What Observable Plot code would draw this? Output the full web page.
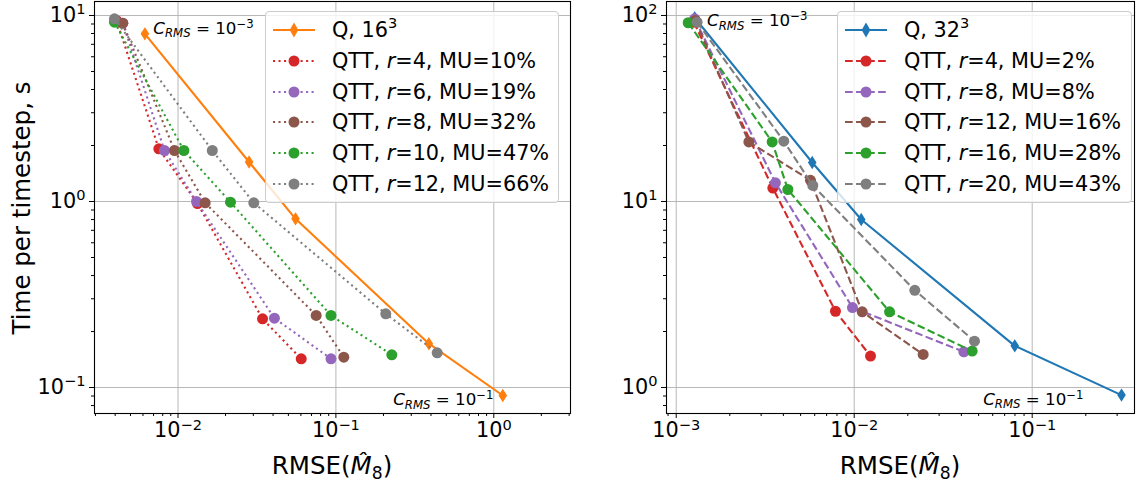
<!DOCTYPE html>
<html>
<head>
<meta charset="utf-8">
<script src="https://cdn.jsdelivr.net/npm/d3@7"></script>
<script src="https://cdn.jsdelivr.net/npm/@observablehq/plot@0.6"></script>
<style>
  html, body { margin: 0; padding: 0; background: #fff; }
  #figure { position: relative; width: 1140px; height: 482px; font-family: "DejaVu Sans", sans-serif; color: #000; overflow: hidden; }
  #figure > svg { position: absolute; top: 0; }
  .legend-box { position: absolute; background: rgba(255,255,255,0.8); border: 1px solid #cccccc; border-radius: 4px; box-sizing: border-box; }
  .legend-handle { position: absolute; overflow: visible; }
  .legend-text { position: absolute; font-size: 20.8px; line-height: 30px; height: 30px; white-space: nowrap; }
  .legend-text .sup { font-size: 70%; position: relative; top: -0.6em; }
</style>
</head>
<body>
<div id="figure"></div>
<script>
// ---- 16^3 grid: full tensor (Q) and QTT at several ranks ----
const errQ16  = [0.00617, 0.0282, 0.0555, 0.388, 1.14];
const timeQ16 = [7.97, 1.63, 0.807, 0.172, 0.0906];
const ranks16 = [4, 6, 8, 10, 12];
const memUse16 = [10, 19, 32, 47, 66];
const errQTT16 = [
  [0.00408, 0.00756, 0.01329, 0.0343, 0.0603],
  [0.00447, 0.00821, 0.0131, 0.0408, 0.0931],
  [0.00447, 0.00950, 0.01486, 0.0750, 0.1122],
  [0.00396, 0.01089, 0.0215, 0.0931, 0.226],
  [0.00396, 0.01649, 0.0302, 0.207, 0.438]
];
const timeQTT16 = [
  [9.40, 1.92, 0.975, 0.234, 0.1427],
  [9.09, 1.88, 1.00, 0.236, 0.1427],
  [9.09, 1.88, 0.984, 0.244, 0.1455],
  [9.21, 1.88, 0.991, 0.244, 0.150],
  [9.60, 1.88, 0.984, 0.249, 0.1536]
];

// ---- 32^3 grid ----
const errQ32  = [0.00127, 0.00581, 0.01095, 0.0798, 0.3175];
const timeQ32 = [97.2, 16.2, 8.0, 1.675, 0.910];
const ranks32 = [4, 8, 12, 16, 20];
const memUse32 = [2, 8, 16, 28, 43];
const errQTT32 = [
  [0.001256, 0.00349, 0.00785, 0.01235],
  [0.00127, 0.00361, 0.00978, 0.0413],
  [0.00128, 0.00256, 0.00568, 0.01109, 0.0244],
  [0.001168, 0.00346, 0.00424, 0.0158, 0.0460],
  [0.00131, 0.00402, 0.00585, 0.0219, 0.0474]
];
const timeQTT32 = [
  [92.0, 11.8, 2.57, 1.475],
  [96.0, 12.6, 2.69, 1.555],
  [94.0, 20.9, 13.0, 2.55, 1.505],
  [91.4, 20.9, 11.6, 2.55, 1.569],
  [92.0, 21.1, 12.2, 3.33, 1.775]
];

// axis ranges and labelled decades
const xDomain16 = [0.002959, 3.06];
const yDomain16 = [0.0725, 11.89];
const xDomain32 = [0.000882, 0.3756];
const yDomain32 = [0.7247, 118.9];
const xMajor16 = [0.01, 0.1, 1];
const yMajor16 = [0.1, 1, 10];
const xMajor32 = [0.001, 0.01, 0.1];
const yMajor32 = [1, 10, 100];

const qttColors = ["#d62728", "#9467bd", "#8c564b", "#2ca02c", "#7f7f7f"];
const DOTTED = "2.08 3.43";
const DASHED = "7.7 3.33";
const TICK_FS = 20.8, NOTE_FS = 16.7, LABEL_FS = 24.5;

// narrow diamond marker
const thinDiamond = {
  draw(ctx, size) {
    const r = Math.sqrt(size / Math.PI);
    const hh = r * 1.12, hw = r * 0.72;
    ctx.moveTo(0, -hh); ctx.lineTo(hw, 0); ctx.lineTo(0, hh); ctx.lineTo(-hw, 0); ctx.closePath();
  }
};

function minorTicks([lo, hi]) {
  const out = [];
  for (let e = Math.floor(Math.log10(lo)); e <= Math.ceil(Math.log10(hi)); e++)
    for (let m = 2; m <= 9; m++) { const v = m * 10 ** e; if (v >= lo && v <= hi) out.push(v); }
  return out;
}
const expLabel = d => `10^${Math.round(Math.log10(d))}`;

// rebuild a text element as a run of tspans (italic / sub / sup)
function rebuild(el, parts, fs) {
  const t = d3.select(el);
  t.selectAll("*").remove();
  t.text(null);
  let cur = 0;
  for (const [str, kind = ""] of parts) {
    const ts = t.append("tspan").text(str);
    let target = 0;
    if (kind.includes("it")) ts.attr("font-style", "italic");
    if (kind.includes("sup")) { ts.attr("font-size", fs * 0.7); target = -0.37 * fs; }
    if (kind.includes("sub")) { ts.attr("font-size", fs * 0.7); target = 0.2 * fs; }
    if (target !== cur) ts.attr("dy", target - cur);
    cur = target;
  }
}
function mathify(svg) {
  d3.select(svg).selectAll("text").each(function () {
    const s = this.textContent;
    let m = s.match(/^10\^(-?\d+)$/);
    if (m) { rebuild(this, [["10"], [m[1].replace("-", "\u2212"), "sup"]], TICK_FS); return; }
    m = s.match(/^C_RMS = 10\^(-?\d+)$/);
    if (m) rebuild(this, [["C", "it"], ["RMS", "subit"], [" = 10"], [m[1].replace("-", "\u2212"), "sup"]], NOTE_FS);
  });
}

function panel(cfg) {
  const marks = [
    Plot.gridX(cfg.xMajor, {stroke: "#b0b0b0", strokeOpacity: 1, strokeWidth: 0.9}),
    Plot.gridY(cfg.yMajor, {stroke: "#b0b0b0", strokeOpacity: 1, strokeWidth: 0.9}),
    Plot.line(cfg.qTime, {x: cfg.qErr, y: cfg.qTime, stroke: cfg.qColor, strokeWidth: 2.1}),
    Plot.dot(cfg.qTime, {x: cfg.qErr, y: cfg.qTime, symbol: thinDiamond, r: 4.8, fill: cfg.qColor, stroke: cfg.qColor, strokeWidth: 1.4})
  ];
  cfg.qttErr.forEach((errs, k) => {
    const times = cfg.qttTime[k];
    marks.push(Plot.line(times, {x: errs, y: times, stroke: qttColors[k], strokeWidth: 2.1, strokeDasharray: cfg.dash, strokeLinecap: "butt"}));
    marks.push(Plot.dot(times, {x: errs, y: times, r: 5.5, fill: qttColors[k]}));
  });
  const n = cfg.qErr.length - 1;
  marks.push(
    Plot.text([0], {x: [cfg.qErr[0]], y: [cfg.qTime[0]], text: ["C_RMS = 10^-3"], textAnchor: "start", lineAnchor: "bottom", dx: cfg.topNote[0], dy: cfg.topNote[1], fontSize: NOTE_FS}),
    Plot.text([0], {x: [cfg.qErr[n]], y: [cfg.qTime[n]], text: ["C_RMS = 10^-1"], textAnchor: "end", lineAnchor: "bottom", dx: cfg.bottomNote[0], dy: cfg.bottomNote[1], fontSize: NOTE_FS}),
    Plot.axisX(cfg.xMajor, {anchor: "bottom", tickSize: 5, tickPadding: 4, tickFormat: expLabel, label: null}),
    Plot.axisX(minorTicks(cfg.xDomain), {anchor: "bottom", tickSize: 3, tickFormat: () => "", label: null}),
    Plot.axisY(cfg.yMajor, {anchor: "left", tickSize: 5, tickPadding: 4, tickFormat: expLabel, label: null}),
    Plot.axisY(minorTicks(cfg.yDomain), {anchor: "left", tickSize: 3, tickFormat: () => "", label: null}),
    Plot.frame({stroke: "#000", strokeWidth: 1.1})
  );
  const svg = Plot.plot({
    width: cfg.width, height: 482,
    marginLeft: cfg.marginLeft, marginRight: cfg.marginRight, marginTop: 1, marginBottom: 69,
    x: {type: "log", domain: cfg.xDomain},
    y: {type: "log", domain: cfg.yDomain},
    style: {fontFamily: "DejaVu Sans", fontSize: TICK_FS + "px", background: "transparent", color: "#000", overflow: "visible"},
    marks
  });
  svg.style.left = cfg.left + "px";
  mathify(svg);
  // x axis title
  const cx = cfg.marginLeft + (cfg.width - cfg.marginLeft - cfg.marginRight) / 2;
  const xl = d3.select(svg).append("text")
    .attr("x", cx).attr("y", 474).attr("text-anchor", "middle")
    .attr("font-size", LABEL_FS).attr("fill", "#000");
  rebuild(xl.node(), [["RMSE("], ["M\u0302", "it"], ["8", "sub"], [")"]], LABEL_FS);
  if (cfg.yTitle) {
    d3.select(svg).append("text")
      .attr("transform", "translate(29.5,208) rotate(-90)")
      .attr("text-anchor", "middle").attr("font-size", LABEL_FS).attr("fill", "#000")
      .text(cfg.yTitle);
  }
  return svg;
}

function legend(root, cfg) {
  const box = document.createElement("div");
  box.className = "legend-box";
  Object.assign(box.style, {left: cfg.left + "px", top: "11px", width: cfg.width + "px", height: "192px"});
  root.appendChild(box);
  cfg.rows.forEach((row, i) => {
    const cy = 30 + i * 30.8;
    const hs = d3.create("svg").attr("class", "legend-handle")
      .attr("width", 42).attr("height", 20)
      .style("left", cfg.handleX + "px").style("top", (cy - 10) + "px");
    hs.append("line").attr("x1", 0).attr("x2", 42).attr("y1", 10).attr("y2", 10)
      .attr("stroke", row.color).attr("stroke-width", 2.1)
      .attr("stroke-dasharray", row.dash || null);
    if (row.diamond) {
      hs.append("path").attr("d", "M21,3.8L24.5,10L21,16.2L17.5,10Z")
        .attr("fill", row.color).attr("stroke", row.color).attr("stroke-width", 1.4);
    } else {
      hs.append("circle").attr("cx", 21).attr("cy", 10).attr("r", 5.5).attr("fill", row.color);
    }
    root.appendChild(hs.node());
    const tx = document.createElement("div");
    tx.className = "legend-text";
    tx.style.left = cfg.textX + "px";
    tx.style.top = (cy - 15) + "px";
    tx.innerHTML = row.html;
    root.appendChild(tx);
  });
}

const root = document.getElementById("figure");

root.appendChild(panel({
  left: 0, width: 600, marginLeft: 94, marginRight: 30,
  xDomain: xDomain16, yDomain: yDomain16, xMajor: xMajor16, yMajor: yMajor16,
  qErr: errQ16, qTime: timeQ16, qColor: "#ff7f0e",
  qttErr: errQTT16, qttTime: timeQTT16, dash: DOTTED,
  topNote: [8.4, 0], bottomNote: [-9.3, 10],
  yTitle: "Time per timestep, s"
}));
root.appendChild(panel({
  left: 600, width: 540, marginLeft: 66, marginRight: 6,
  xDomain: xDomain32, yDomain: yDomain32, xMajor: xMajor32, yMajor: yMajor32,
  qErr: errQ32, qTime: timeQ32, qColor: "#1f77b4",
  qttErr: errQTT32, qttTime: timeQTT32, dash: DASHED,
  topNote: [12.4, 8.7], bottomNote: [-38, 10]
}));

legend(root, {
  left: 265, width: 294, handleX: 273, textX: 332,
  rows: [{html: 'Q, 16<span class="sup">3</span>', color: "#ff7f0e", diamond: true}]
    .concat(ranks16.map((r, k) => ({html: `QTT, <i>r</i>=${r}, MU=${memUse16[k]}%`, color: qttColors[k], dash: DOTTED})))
});
legend(root, {
  left: 837, width: 295, handleX: 845, textX: 904,
  rows: [{html: 'Q, 32<span class="sup">3</span>', color: "#1f77b4", diamond: true}]
    .concat(ranks32.map((r, k) => ({html: `QTT, <i>r</i>=${r}, MU=${memUse32[k]}%`, color: qttColors[k], dash: DASHED})))
});
</script>
</body>
</html>
